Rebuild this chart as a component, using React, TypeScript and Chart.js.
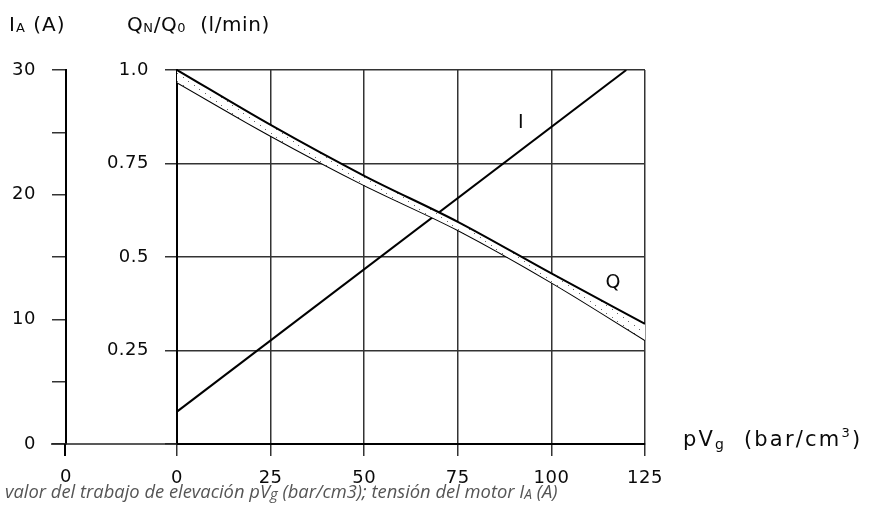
import React, { useEffect, useRef } from 'react';
import { Chart, registerables } from 'chart.js';

Chart.register(...registerables);

// pVg (bar/cm³) sample positions
const pvg = [0, 25, 50, 75, 100, 125];
// Q_N/Q_0 band: upper and lower boundary
const qUpper = [1.0, 0.853, 0.717, 0.594, 0.456, 0.321];
const qLower = [0.967, 0.824, 0.692, 0.572, 0.432, 0.278];
// motor current I_A (A)
const iPvg = [0, 120];
const iAmps = [2.6, 30];

const xTickStep = 25;
const qTickStep = 0.25;
const iTickStep = 5;
const iLabelled = [0, 10, 20, 30];
const qTickLabels: Record<string, string> = { '1': '1.0', '0.75': '0.75', '0.5': '0.5', '0.25': '0.25', '0': '' };

const curveLabels = [
  { text: 'I', x: 91.9, y: 25.75, axis: 'y2' },
  { text: 'Q', x: 116.5, y: 0.43, axis: 'y' },
];

const FONT = '"DejaVu Sans", sans-serif';
const CAPFONT = '"Open Sans", sans-serif';
const TEXT = '#0a0a0a';
const GRID = '#333';
const TICK_SPACING = '0.5px';

type Seg = { t: string; size: number; dy?: number; italic?: boolean; family?: string };

function drawRich(ctx: any, x: number, y: number, segs: Seg[], color: string, spacing: number, scale = 1) {
  let cx = x;
  ctx.letterSpacing = `${spacing}px`;
  for (const s of segs) {
    ctx.font = `${s.italic ? 'italic ' : ''}${s.size * scale}px ${s.family || FONT}`;
    ctx.fillStyle = color;
    ctx.textBaseline = 'alphabetic';
    ctx.textAlign = 'left';
    ctx.fillText(s.t, cx, y + (s.dy || 0) * scale);
    cx += ctx.measureText(s.t).width;
  }
  return cx - x;
}

function measureRich(ctx: any, segs: Seg[]) {
  let w = 0;
  for (const s of segs) {
    ctx.font = `${s.italic ? 'italic ' : ''}${s.size}px ${s.family || FONT}`;
    w += ctx.measureText(s.t).width;
  }
  return w;
}

const captionSegs: Seg[] = [
  { t: 'valor del trabajo de elevación pV', size: 16, italic: true, family: CAPFONT },
  { t: 'g', size: 13, dy: 1, italic: true, family: CAPFONT },
  { t: ' (bar/cm3); tensión del motor I', size: 16, italic: true, family: CAPFONT },
  { t: 'A', size: 12, dy: 1, italic: true, family: CAPFONT },
  { t: ' (A)', size: 16, italic: true, family: CAPFONT },
];

const decorPlugin = {
  id: 'decor',
  beforeDraw(chart: any) {
    chart.ctx.letterSpacing = TICK_SPACING;
  },
  afterDraw(chart: any) {
    const { ctx, chartArea, scales } = chart;
    const y2 = scales.y2;
    const axX = y2.right - 1;
    ctx.save();
    // extend baseline towards the current axis
    ctx.strokeStyle = '#222';
    ctx.lineWidth = 1.5;
    ctx.beginPath();
    ctx.moveTo(axX - 14, chartArea.bottom);
    ctx.lineTo(chartArea.left, chartArea.bottom);
    ctx.stroke();
    ctx.strokeStyle = '#000';
    ctx.lineWidth = 2;
    ctx.beginPath();
    ctx.moveTo(axX, chartArea.bottom);
    ctx.lineTo(axX, chartArea.bottom + 12);
    ctx.stroke();
    // "0" under current axis
    ctx.letterSpacing = TICK_SPACING;
    ctx.font = `18px ${FONT}`;
    ctx.fillStyle = TEXT;
    ctx.textAlign = 'center';
    ctx.textBaseline = 'middle';
    ctx.fillText('0', axX + 1, 477);

    // curve labels
    ctx.font = `19px ${FONT}`;
    for (const l of curveLabels) {
      const px = scales.x.getPixelForValue(l.x);
      const py = scales[l.axis].getPixelForValue(l.y);
      ctx.fillText(l.text, px, py);
    }

    // axis titles
    drawRich(ctx, 9, 31, [
      { t: 'I', size: 20 },
      { t: 'A', size: 13, dy: 1 },
      { t: ' (A)', size: 20 },
    ], TEXT, 1);
    drawRich(ctx, 127, 31, [
      { t: 'Q', size: 20 },
      { t: 'N', size: 13, dy: 1 },
      { t: '/Q', size: 20 },
      { t: '0', size: 13, dy: 1 },
      { t: '  (l/min)', size: 20 },
    ], TEXT, 0.6);
    drawRich(ctx, 683, 446, [
      { t: 'pV', size: 21 },
      { t: 'g', size: 14, dy: 3 },
      { t: '  (bar/cm', size: 21 },
      { t: '3', size: 13, dy: -9 },
      { t: ')', size: 21 },
    ], TEXT, 2.2);

    // caption, fitted to the reference width
    ctx.letterSpacing = '0px';
    const w = measureRich(ctx, captionSegs);
    const k = 553 / w;
    drawRich(ctx, 5, 498, captionSegs, '#555', 0, k);
    ctx.restore();
  },
};

function makeStipple(ctx: CanvasRenderingContext2D) {
  const c = document.createElement('canvas');
  c.width = 11;
  c.height = 8;
  const g = c.getContext('2d')!;
  g.fillStyle = '#ffffff';
  g.fillRect(0, 0, 11, 8);
  g.fillStyle = '#666';
  g.fillRect(1, 1, 1, 1);
  g.fillRect(7, 5, 1, 1);
  return ctx.createPattern(c, 'repeat');
}

export default function App() {
  const ref = useRef<HTMLCanvasElement>(null);
  useEffect(() => {
    const canvas = ref.current!;
    const pattern = makeStipple(canvas.getContext('2d')!);
    const tickFont = { family: FONT, size: 18 };
    const chart = new Chart(canvas, {
      type: 'line',
      data: {
        datasets: [
          {
            label: 'Q upper',
            data: pvg.map((x, i) => ({ x, y: qUpper[i] })),
            yAxisID: 'y',
            borderColor: '#000',
            borderWidth: 2,
            pointRadius: 0,
            cubicInterpolationMode: 'monotone',
            fill: '+1',
            backgroundColor: pattern as any,
          },
          {
            label: 'Q lower',
            data: pvg.map((x, i) => ({ x, y: qLower[i] })),
            yAxisID: 'y',
            borderColor: '#000',
            borderWidth: 2,
            pointRadius: 0,
            cubicInterpolationMode: 'monotone',
            fill: false,
          },
          {
            label: 'I',
            data: iPvg.map((x, i) => ({ x, y: iAmps[i] })),
            yAxisID: 'y2',
            borderColor: '#000',
            borderWidth: 2,
            pointRadius: 0,
            fill: false,
          },
        ],
      },
      options: {
        responsive: false,
        animation: false,
        layout: { padding: { left: 0, top: 70, right: 231, bottom: 40 } },
        plugins: { legend: { display: false }, tooltip: { enabled: false } },
        scales: {
          x: {
            type: 'linear',
            min: 0,
            max: 125,
            position: 'bottom',
            ticks: { stepSize: xTickStep, font: tickFont, color: TEXT, padding: 12, maxRotation: 0 },
            grid: { color: GRID, lineWidth: 1.5, tickLength: 12 },
            border: { color: '#000', width: 2 },
            afterFit: (s: any) => { s.height = 43; },
          },
          y: {
            type: 'linear',
            min: 0,
            max: 1,
            position: 'left',
            weight: 0,
            ticks: {
              stepSize: qTickStep,
              font: tickFont,
              color: TEXT,
              padding: 16,
              callback: (v: any) => qTickLabels[String(v)] ?? String(v),
            },
            grid: { color: GRID, lineWidth: 1.5, tickLength: 12 },
            border: { color: '#000', width: 2 },
            afterFit: (s: any) => { s.width = 111; },
          },
          y2: {
            type: 'linear',
            min: 0,
            max: 30,
            position: 'left',
            weight: 1,
            ticks: {
              stepSize: iTickStep,
              font: tickFont,
              color: TEXT,
              padding: 16,
              callback: (v: any) => (iLabelled.includes(Number(v)) ? String(v) : ''),
            },
            grid: { drawOnChartArea: false, color: GRID, lineWidth: 1.5, tickLength: 14 },
            border: { color: '#000', width: 2 },
            afterFit: (s: any) => { s.width = 66; },
          },
        },
      } as any,
      plugins: [decorPlugin],
    });
    return () => chart.destroy();
  }, []);
  return (
    <div style={{ position: 'absolute', left: 0, top: 0, width: 876, height: 527, background: '#fff' }}>
      <canvas ref={ref} width={876} height={527} style={{ display: 'block' }} />
    </div>
  );
}
